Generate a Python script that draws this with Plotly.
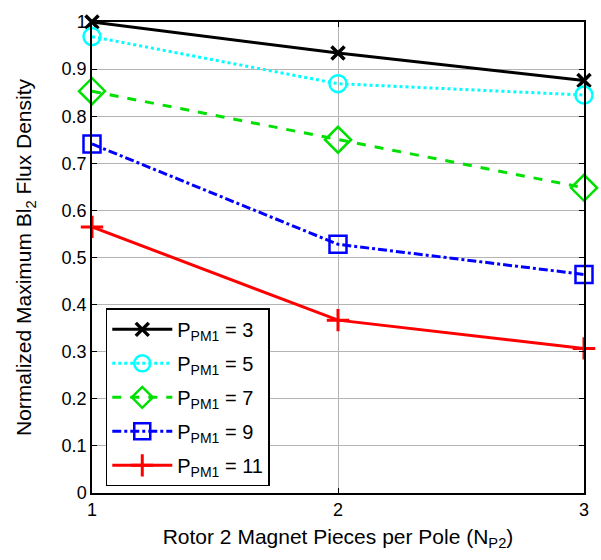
import plotly.graph_objects as go

x_vals = [1, 2, 3]
p3 = [1.0, 0.934, 0.876]
p5 = [0.969, 0.869, 0.845]
p7 = [0.853, 0.750, 0.648]
p9 = [0.741, 0.528, 0.464]
p11 = [0.565, 0.367, 0.307]
names = ["P<sub>PM1</sub> = 3", "P<sub>PM1</sub> = 5", "P<sub>PM1</sub> = 7",
         "P<sub>PM1</sub> = 9", "P<sub>PM1</sub> = 11"]
x_ticks = [1, 2, 3]
y_ticks = [0, 0.1, 0.2, 0.3, 0.4, 0.5, 0.6, 0.7, 0.8, 0.9, 1]
y_tick_text = ["0", "0.1", "0.2", "0.3", "0.4", "0.5", "0.6", "0.7", "0.8", "0.9", "1"]

styles = [
    dict(color="#000000", dash="solid", symbol="x-thin", size=13, mw=3.5),
    dict(color="#00ffff", dash="dot", symbol="circle-open", size=17, mw=2.5),
    dict(color="#00e000", dash="dash", symbol="diamond-open", size=20, mw=2.5),
    dict(color="#0000ff", dash="dashdot", symbol="square-open", size=17, mw=2.5),
    dict(color="#ff0000", dash="solid", symbol="cross-thin", size=16, mw=3),
]
series = [p3, p5, p7, p9, p11]

fig = go.Figure()
for i, (ys, nm, st) in enumerate(zip(series, names, styles)):
    fig.add_trace(go.Scatter(
        x=x_vals, y=ys, name=nm, mode="lines+markers", legendgroup="g%d" % i,
        line=dict(color=st["color"], width=3, dash=st["dash"]),
        marker=dict(symbol=st["symbol"], size=st["size"], color=st["color"],
                    line=dict(color=st["color"], width=st["mw"])),
        cliponaxis=False,
    ))

axis_common = dict(
    showline=True, linecolor="black", linewidth=1.5, mirror="ticks",
    ticks="inside", ticklen=5, tickcolor="black", tickwidth=1,
    showgrid=True, gridcolor="#b4b4b4", gridwidth=1, zeroline=False,
    tickfont=dict(family="Liberation Sans, Arial, sans-serif", size=18, color="black"),
)

fig.update_layout(
    width=601, height=560,
    margin=dict(l=92, r=17, t=13, b=67),
    paper_bgcolor="white", plot_bgcolor="white",
    font=dict(family="Liberation Sans, Arial, sans-serif", color="black"),
    xaxis=dict(range=[1, 3], tickvals=x_ticks, ticktext=[str(v) for v in x_ticks],
               title=dict(text="Rotor 2 Magnet Pieces per Pole (N<sub>P2</sub>)",
                          font=dict(size=21), standoff=10),
               **axis_common),
    yaxis=dict(range=[0, 1], tickvals=y_ticks, ticktext=y_tick_text,
               title=dict(text="Normalized Maximum Bl<sub>2</sub> Flux Density",
                          font=dict(size=21), standoff=24),
               **axis_common),
    legend=dict(x=0.028, y=0.392, xanchor="left", yanchor="top",
                bgcolor="white", bordercolor="black", borderwidth=1.5,
                font=dict(size=20), tracegroupgap=5, itemwidth=60),
    showlegend=True,
)

fig.write_html("out.html")
